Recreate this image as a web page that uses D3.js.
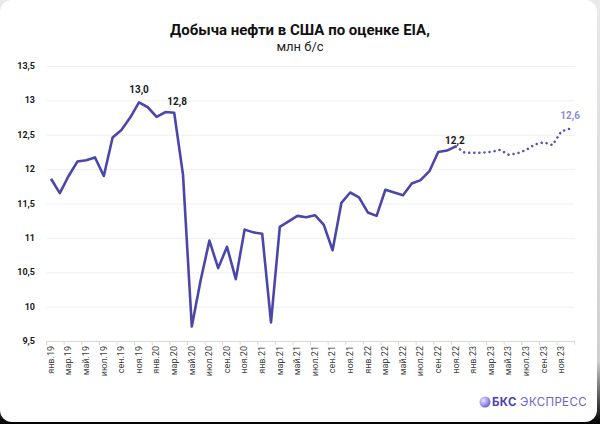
<!DOCTYPE html>
<html><head><meta charset="utf-8">
<script src="https://cdn.jsdelivr.net/npm/d3@7"></script>
<style>
html,body{margin:0;padding:0;width:600px;height:424px;overflow:hidden;background:linear-gradient(#e9e9e9 0%,#d0d0d0 85%,#000 100%);}
#card{position:absolute;left:0;top:0;width:597px;height:422px;background:#fff;border-radius:12px;}
svg{position:absolute;left:0;top:0;font-family:Roboto,"Noto Sans",sans-serif;}
</style></head>
<body><div id="card"></div><svg id="c" width="600" height="424"></svg>
<script>
const monthNames = ["янв","фев","мар","апр","май","июн","июл","авг","сен","окт","ноя","дек"];
const years = ["19","20","21","22","23"];
const categories = years.flatMap(yr => monthNames.map(m => m + "." + yr));
// Actual: янв.19 – ноя.22
const actual = [11.86,11.65,11.90,12.11,12.13,12.17,11.90,12.46,12.57,12.75,12.97,12.90,
  12.76,12.83,12.82,11.92,9.71,10.38,10.96,10.56,10.87,10.40,11.12,11.08,
  11.06,9.77,11.16,11.24,11.32,11.30,11.33,11.19,10.82,11.51,11.66,11.59,
  11.37,11.32,11.70,11.66,11.62,11.79,11.84,11.97,12.25,12.27,12.33];
// Forecast: ноя.22 – дек.23
const forecast = [12.33,12.24,12.24,12.24,12.25,12.28,12.21,12.23,12.28,12.36,12.39,12.35,12.55,12.59];
const forecastStart = 46;
const yTicks = [9.5,10,10.5,11,11.5,12,12.5,13,13.5];
const yTickLabels = ["9,5","10","10,5","11","11,5","12","12,5","13","13,5"];
const dataLabels = [
  {idx:10, text:"13,0", dx:0, dy:-9, color:"#1a1a1a"},
  {idx:14, text:"12,8", dx:3, dy:-8, color:"#1a1a1a"},
  {idx:46, text:"12,2", dx:-1, dy:-2, color:"#1a1a1a"},
  {idx:59, text:"12,6", dx:0, dy:-10, color:"#8f8ad6"}
];

const svg = d3.select("#c");
const x = d3.scaleBand().domain(categories).range([46.6, 574.6]).padding(0);
const bw = x.bandwidth();
const cx = c => x(c) + bw/2;
const y = d3.scaleLinear().domain([9.5, 13.5]).range([341, 66]);

// title
svg.append("text").attr("x",300).attr("y",35).attr("text-anchor","middle")
  .attr("font-size",15).attr("font-weight","bold").attr("fill","#111")
  .text("Добыча нефти в США по оценке EIA,");
svg.append("text").attr("x",300).attr("y",51).attr("text-anchor","middle")
  .attr("font-size",13).attr("fill","#222").text("млн б/с");

// grid
svg.append("g").selectAll("line").data(yTicks.slice(1)).join("line")
  .attr("x1",46.6).attr("x2",574.6).attr("y1",d=>y(d)+0.5).attr("y2",d=>y(d)+0.5)
  .attr("stroke","#efefef").attr("stroke-width",1);

// y labels
svg.append("g").selectAll("text").data(yTicks).join("text")
  .attr("x",35).attr("y",d=>y(d)+3).attr("text-anchor","end")
  .attr("font-size",9).attr("font-weight","bold").attr("fill","#1a1a1a")
  .text((d,i)=>yTickLabels[i]);

// x axis
const labeled = categories.filter((c,i)=>i%2===0);
const xAxis = d3.axisBottom(x).tickValues(labeled).tickSize(0).tickPadding(0);
const gx = svg.append("g").attr("transform","translate(0,341)").call(xAxis);
gx.select(".domain").attr("stroke","#d9d9d9");
gx.selectAll(".tick text").attr("transform","rotate(-90)")
  .attr("text-anchor","end").attr("x",-5).attr("y",0).attr("dy","0.32em")
  .attr("font-size",9).attr("font-family","Roboto,sans-serif").attr("fill","#404040");
const tickPos = labeled.map(c=>x(c)).concat([574.6]);
svg.append("g").selectAll("line").data(tickPos).join("line")
  .attr("x1",d=>d).attr("x2",d=>d).attr("y1",341).attr("y2",345)
  .attr("stroke","#d9d9d9");

// lines
const line = d3.line().x(d=>cx(d.c)).y(d=>y(d.v));
const actualPts = actual.map((v,i)=>({c:categories[i], v}));
const fcPts = forecast.map((v,i)=>({c:categories[forecastStart+i], v}));
svg.append("path").datum(fcPts).attr("d",line).attr("fill","none")
  .attr("stroke","#5652b6").attr("stroke-width",2.5).attr("stroke-linecap","round")
  .attr("stroke-dasharray","0.1 5");
svg.append("path").datum(actualPts).attr("d",line).attr("fill","none")
  .attr("stroke","#4b47aa").attr("stroke-width",2.6).attr("stroke-linejoin","round");

// data labels
const allVals = actual.concat(forecast.slice(1));
svg.append("g").selectAll("text").data(dataLabels).join("text")
  .attr("x",d=>cx(categories[d.idx])+d.dx).attr("y",d=>y(allVals[d.idx])+d.dy)
  .attr("text-anchor","middle").attr("font-size",10).attr("font-weight","bold")
  .attr("fill",d=>d.color).text(d=>d.text);

// logo
const defs = svg.append("defs");
const rg = defs.append("radialGradient").attr("id","lg").attr("cx","35%").attr("cy","35%").attr("r","70%");
rg.append("stop").attr("offset","0%").attr("stop-color","#e6e2ff");
rg.append("stop").attr("offset","55%").attr("stop-color","#a79cf0");
rg.append("stop").attr("offset","100%").attr("stop-color","#6a5bd6");
svg.append("circle").attr("cx",485).attr("cy",402).attr("r",5.5).attr("fill","url(#lg)");
const lt = svg.append("text").attr("x",492).attr("y",406).attr("font-size",11.5)
  .attr("letter-spacing",0.4).attr("font-family","Inter,Roboto,sans-serif");
lt.append("tspan").attr("font-weight","bold").attr("fill","#4b3fb5").text("БКС ");
lt.append("tspan").attr("fill","#6b5fd3").text("ЭКСПРЕСС");
</script></body></html>
